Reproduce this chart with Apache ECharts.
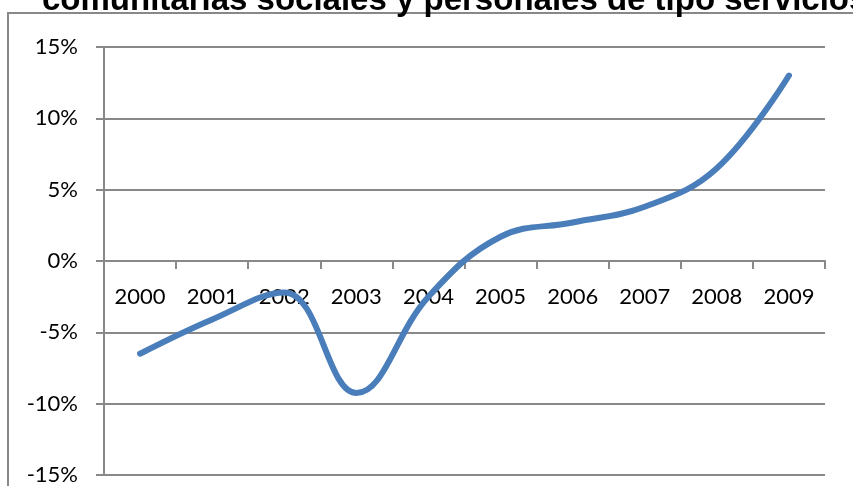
<!DOCTYPE html>
<html>
<head>
<meta charset="utf-8">
<script src="https://cdn.jsdelivr.net/npm/echarts@6/dist/echarts.min.js"></script>
<style>
  html, body { margin: 0; padding: 0; background: #fff; }
</style>
</head>
<body>
<div id="main" style="width: 853px; height: 486px"></div>
<script>
// datos
const years = ['2000', '2001', '2002', '2003', '2004', '2005', '2006', '2007', '2008', '2009']
const growth = [-6.5, -4.1, -2.2, -9.25, -2.5, 1.7, 2.7, 3.8, 6.5, 13.0]
const titleText = 'comunitarias sociales y personales de tipo servicios'

const myChart = echarts.init(document.getElementById('main'))
const axisGrey = '#888888'
const labelFont = 'Lato'

const option = {
  animation: false,
  title: {
    text: titleText,
    left: 37,
    top: -21,
    textStyle: {
      fontFamily: 'Liberation Sans',
      fontWeight: 'bold',
      fontSize: 33,
      color: '#000'
    }
  },
  graphic: [
    {
      type: 'rect',
      shape: { x: 8, y: 13, width: 900, height: 520 },
      style: { fill: 'none', stroke: axisGrey, lineWidth: 2 },
      silent: true,
      z: -1
    }
  ],
  grid: {
    left: 104,
    right: 28,
    top: 47,
    bottom: 11,
    outerBoundsMode: 'none'
  },
  xAxis: {
    type: 'category',
    data: years,
    boundaryGap: true,
    axisLine: { onZero: true, lineStyle: { color: axisGrey, width: 2 } },
    axisTick: { show: true, length: 8, lineStyle: { color: axisGrey, width: 2 } },
    axisLabel: {
      // las etiquetas quedan abajo del grid; se suben hasta la linea del 0%
      margin: -189,
      fontFamily: labelFont,
      fontSize: 22,
      color: '#000'
    },
    splitLine: { show: false }
  },
  yAxis: {
    type: 'value',
    min: -15,
    max: 15,
    interval: 5,
    axisLine: { show: true, lineStyle: { color: axisGrey, width: 2 } },
    axisTick: { show: true, length: 8, lineStyle: { color: axisGrey, width: 2 } },
    axisLabel: {
      margin: 26,
      fontFamily: labelFont,
      fontSize: 22,
      color: '#000',
      formatter: '{value}%'
    },
    splitLine: { show: true, lineStyle: { color: axisGrey, width: 2 } }
  },
  series: [
    {
      type: 'line',
      data: growth,
      smooth: 0.4,
      showSymbol: false,
      lineStyle: { color: '#4a7ebb', width: 6, cap: 'round' }
    }
  ]
}
myChart.setOption(option)
</script>
</body>
</html>
